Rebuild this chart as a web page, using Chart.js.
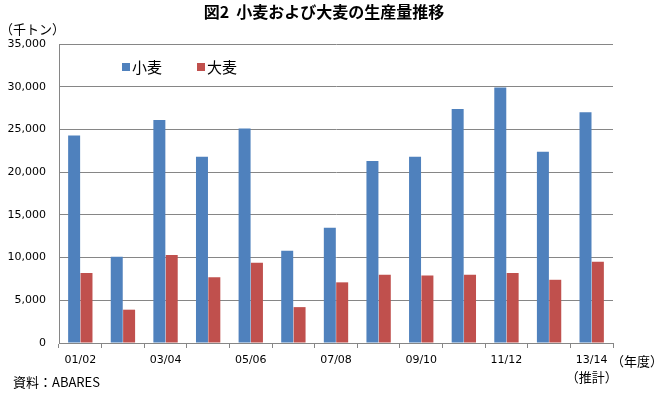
<!DOCTYPE html>
<html>
<head>
<meta charset="utf-8">
<script src="https://cdn.jsdelivr.net/npm/chart.js@4/dist/chart.umd.min.js"></script>
<style>
  body { margin: 0; background: #fff; }
  #wrap { width: 656px; height: 393px; }
</style>
</head>
<body>
<div id="wrap"><canvas id="graphCanvas" width="656" height="393"></canvas></div>
<script>
var years = ['01/02', '02/03', '03/04', '04/05', '05/06', '06/07', '07/08',
             '08/09', '09/10', '10/11', '11/12', '12/13', '13/14'];
var wheat = [24300, 10100, 26100, 21800, 25100, 10800, 13500,
             21300, 21800, 27400, 29900, 22400, 27000];
var barley = [8200, 3900, 10300, 7700, 9400, 4200, 7100,
              8000, 7900, 8000, 8200, 7400, 9500];
var yTicks = [0, 5000, 10000, 15000, 20000, 25000, 30000, 35000];
var estimateNote = '（推計）'; // shown under the last year

var jpFont = '"Noto Sans CJK JP", sans-serif';
var numFont = '"DejaVu Sans", "Noto Sans CJK JP", sans-serif';

// titles, unit labels and the legend drawn as text on top
var textPlugin = {
    id: 'texts',
    afterDraw: function (chart) {
        var ctx = chart.ctx;
        ctx.save();
        ctx.fillStyle = '#000';
        ctx.textBaseline = 'middle';

        ctx.font = 'bold 16px ' + jpFont;
        ctx.textAlign = 'center';
        ctx.fillText('図2  小麦および大麦の生産量推移', 324, 12);

        ctx.font = '13px ' + jpFont;
        var lastX = chart.scales.x.getPixelForValue(years.length - 1);
        ctx.fillText(estimateNote, lastX, 377);

        ctx.textAlign = 'left';
        ctx.fillText('（千トン）', 0, 29);
        ctx.fillText('（年度）', 611, 361);
        ctx.fillText('資料：ABARES', 13, 382);

        // legend
        ctx.font = '15px ' + jpFont;
        var lx = [122, 197];
        chart.data.datasets.forEach(function (ds, i) {
            ctx.fillStyle = ds.backgroundColor;
            ctx.fillRect(lx[i], 63, 8, 8);
            ctx.fillStyle = '#000';
            ctx.fillText(ds.label, lx[i] + 10, 67);
        });
        ctx.restore();
    }
};

var chart = new Chart(document.getElementById('graphCanvas'), {
    type: 'bar',
    data: {
        labels: years,
        datasets: [
            { label: '小麦', data: wheat, backgroundColor: '#4F81BD' },
            { label: '大麦', data: barley, backgroundColor: '#C0504D' }
        ]
    },
    options: {
        responsive: false,
        animation: false,
        layout: { padding: { top: 44, right: 43, left: 0, bottom: 0 } },
        datasets: { bar: { categoryPercentage: 0.58, barPercentage: 0.97 } },
        plugins: { legend: { display: false }, tooltip: { enabled: false } },
        scales: {
            x: {
                offset: true,
                grid: { offset: true, drawOnChartArea: false, drawTicks: true, tickLength: 5, color: '#868686' },
                border: { color: '#868686' },
                ticks: {
                    autoSkip: false,
                    maxRotation: 0,
                    padding: 6,
                    color: '#000',
                    font: { family: numFont, size: 11 },
                    callback: function (v, i) { return i % 2 === 0 ? this.getLabelForValue(v) : ''; }
                },
                afterFit: function (scale) { scale.height = 50; }
            },
            y: {
                min: 0,
                max: 35000,
                grid: { color: '#868686', drawTicks: false },
                border: { color: '#868686' },
                afterBuildTicks: function (scale) {
                    scale.ticks = yTicks.map(function (v) { return { value: v }; });
                },
                ticks: {
                    padding: 13,
                    color: '#000',
                    font: { family: numFont, size: 11 },
                    callback: function (v) { return v.toLocaleString('en-US'); }
                },
                afterFit: function (scale) { scale.width = 59; }
            }
        }
    },
    plugins: [textPlugin]
});
</script>
</body>
</html>
